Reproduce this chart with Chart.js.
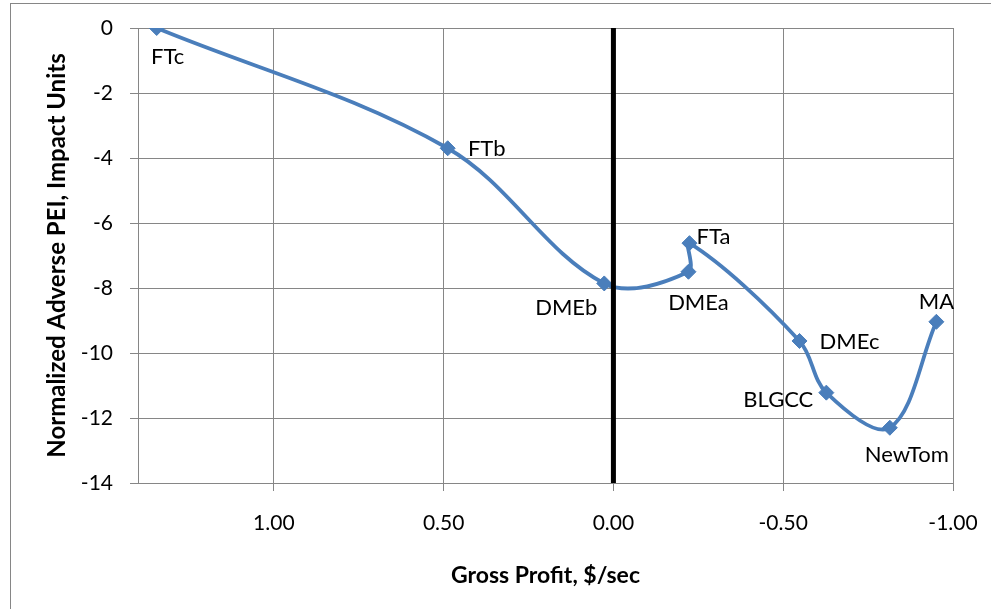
<!DOCTYPE html>
<html>
<head>
<meta charset="utf-8">
<title>Gross Profit vs Normalized Adverse PEI</title>
<script src="https://cdn.jsdelivr.net/npm/chart.js@4"></script>
<style>
  html, body { margin: 0; padding: 0; background: #fff; }
  #wrap { width: 991px; height: 609px; position: relative; }
</style>
</head>
<body>
<div id="wrap"><canvas id="c" width="991" height="609"></canvas></div>
<script>
// Process cases, in the order the curve visits them
const cases = ['FTc', 'FTb', 'DMEb', 'DMEa', 'FTa', 'DMEc', 'BLGCC', 'NewTom', 'MA'];
// Gross profit, $/sec
const grossProfit = [1.345, 0.488, 0.027, -0.221, -0.224, -0.548, -0.627, -0.814, -0.951];
// Normalized adverse PEI, impact units
const adversePEI = [0.00, -3.70, -7.86, -7.50, -6.62, -9.63, -11.22, -12.30, -9.04];
// Break-even marker at zero gross profit
const zeroProfitX = [0, 0];
const zeroProfitY = [0, -14];
// Axis ticks
const xTickValues = [1.00, 0.50, 0.00, -0.50, -1.00];
const yTickValues = [0, -2, -4, -6, -8, -10, -12, -14];

// Where each case label sits relative to its marker (px)
const labelPlacement = {
  FTc:    { dx: 11,  dy: 29 },
  FTb:    { dx: 39,  dy: 1 },
  DMEb:   { dx: -38, dy: 24 },
  DMEa:   { dx: 10,  dy: 31 },
  FTa:    { dx: 24,  dy: -6 },
  DMEc:   { dx: 50,  dy: 1 },
  BLGCC:  { dx: -48, dy: 7 },
  NewTom: { dx: 17,  dy: 27 },
  MA:     { dx: 0,   dy: -20 }
};

const FONT = 'Lato, "Open Sans", sans-serif';
const GRID = '#868686';
const BLUE = '#4A7EBB';

// White page with the chart's outer frame
const framePlugin = {
  id: 'frame',
  beforeDraw(chart) {
    const ctx = chart.ctx;
    ctx.save();
    ctx.fillStyle = '#fff';
    ctx.fillRect(0, 0, chart.width, chart.height);
    ctx.strokeStyle = GRID;
    ctx.lineWidth = 1;
    ctx.strokeRect(10.5, 3.5, 1200, 900);
    ctx.restore();
  }
};

// Case names next to their markers
const caseLabels = {
  id: 'caseLabels',
  afterDatasetsDraw(chart) {
    const meta = chart.getDatasetMeta(1);
    const ctx = chart.ctx;
    ctx.save();
    ctx.font = '22px ' + FONT;
    ctx.fillStyle = '#000';
    ctx.textAlign = 'center';
    ctx.textBaseline = 'middle';
    meta.data.forEach((pt, i) => {
      const p = labelPlacement[cases[i]];
      ctx.fillText(cases[i], pt.x + p.dx, pt.y + p.dy);
    });
    ctx.restore();
  }
};

new Chart(document.getElementById('c'), {
  type: 'scatter',
  data: {
    datasets: [
      {
        label: 'Zero gross profit',
        data: zeroProfitX.map((x, i) => ({ x: x, y: zeroProfitY[i] })),
        showLine: true,
        borderColor: '#000',
        borderWidth: 5,
        borderCapStyle: 'round',
        pointRadius: 0,
        order: 0
      },
      {
        label: 'Cases',
        data: cases.map((c, i) => ({ x: grossProfit[i], y: adversePEI[i] })),
        showLine: true,
        borderColor: BLUE,
        borderWidth: 3.8,
        tension: 0.35,
        pointStyle: 'rectRot',
        pointRadius: 7.5,
        pointBackgroundColor: BLUE,
        pointBorderColor: BLUE,
        pointBorderWidth: 1,
        order: 1
      }
    ]
  },
  options: {
    responsive: false,
    animation: false,
    layout: { padding: { left: 0, top: 28, right: 38, bottom: 0 } },
    plugins: {
      legend: { display: false },
      tooltip: { enabled: false }
    },
    scales: {
      x: {
        type: 'linear',
        reverse: true,
        min: -1,
        max: 1.4,
        afterBuildTicks: s => { s.ticks = xTickValues.map(v => ({ value: v })); },
        afterFit: s => { s.height = 126; s.paddingLeft = 0; s.paddingRight = 0; },
        ticks: {
          callback: v => Number(v).toFixed(2),
          color: '#000',
          padding: 20,
          maxRotation: 0,
          autoSkip: false,
          font: { family: FONT, size: 21 }
        },
        grid: { color: GRID, lineWidth: 1, tickLength: 8 },
        border: { color: GRID },
        title: {
          display: true,
          text: 'Gross Profit, $/sec',
          color: '#000',
          font: { family: FONT, size: 23, weight: 'bold' },
          padding: { top: 0, bottom: 20 }
        }
      },
      y: {
        type: 'linear',
        min: -14,
        max: 0,
        afterBuildTicks: s => { s.ticks = yTickValues.map(v => ({ value: v })); },
        afterFit: s => { s.width = 138; s.paddingTop = 0; s.paddingBottom = 0; },
        ticks: {
          callback: v => String(v),
          color: '#000',
          padding: 17,
          font: { family: FONT, size: 21 }
        },
        grid: { color: GRID, lineWidth: 1, tickLength: 8 },
        border: { color: GRID },
        title: {
          display: true,
          text: 'Normalized Adverse PEI, Impact Units',
          color: '#000',
          font: { family: FONT, size: 24, weight: 'bold' },
          padding: { top: 43, bottom: 0 }
        }
      }
    }
  },
  plugins: [framePlugin, caseLabels]
});
</script>
</body>
</html>
